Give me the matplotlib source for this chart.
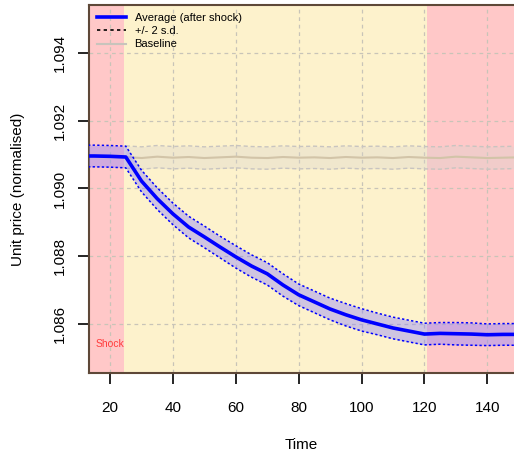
import matplotlib
matplotlib.use("Agg")
from matplotlib import pyplot as plt
from matplotlib.lines import Line2D
import numpy as np

"""
Unit price response to a supply shock, with the baseline run for comparison.
"""

# Average unit price after the shock
time = [13, 15, 20, 25, 30, 35, 40, 45, 50, 55, 60, 65, 70, 75, 80, 85, 90,
        95, 100, 105, 110, 115, 120, 125, 130, 135, 140, 145, 150]
avg_price = [1.09096, 1.09096, 1.09095, 1.09093, 1.09022, 1.08970, 1.08925,
             1.08886, 1.08857, 1.08827, 1.08798, 1.08771, 1.08748, 1.08715,
             1.08686, 1.08665, 1.08644, 1.08627, 1.08612, 1.08600, 1.08588,
             1.08579, 1.08570, 1.08572, 1.08571, 1.08570, 1.08568, 1.08569,
             1.08569]
avg_sd2 = [0.00032, 0.00032, 0.00032, 0.00032, 0.00032, 0.00032, 0.00032,
           0.00032, 0.00032, 0.00032, 0.00033, 0.00033, 0.00033, 0.00033,
           0.00032, 0.00032, 0.00032, 0.00033, 0.00033, 0.00032, 0.00032,
           0.00032, 0.00032, 0.00032, 0.00033, 0.00033, 0.00032, 0.00032,
           0.00032]

# Baseline (no shock) run
base_time = [25, 30, 35, 40, 45, 50, 55, 60, 65, 70, 75, 80, 85, 90, 95, 100,
             105, 110, 115, 120, 125, 130, 135, 140, 145, 150]
base_price = [1.09093, 1.09090, 1.09094, 1.09091, 1.09093, 1.09090, 1.09092,
              1.09094, 1.09091, 1.09090, 1.09093, 1.09091, 1.09092, 1.09090,
              1.09093, 1.09091, 1.09092, 1.09090, 1.09093, 1.09091, 1.09090,
              1.09094, 1.09092, 1.09090, 1.09091, 1.09092]
base_sd2 = [0.00033] * len(base_time)

# Shock phases
shock_start = 24.5
shock_end = 120.7

XLIM = (13.3, 148.5)
YLIM = (1.08455, 1.09542)


def main():
    plt.rcParams['font.family'] = ['Liberation Sans', 'DejaVu Sans']

    t = np.array(time)
    y = np.array(avg_price)
    s = np.array(avg_sd2)
    bt = np.array(base_time)
    by = np.array(base_price)
    bs = np.array(base_sd2)

    fig = plt.figure(figsize=(5.14, 4.61), dpi=100)
    ax = fig.add_axes([89 / 514, 88 / 461, 1 - 89 / 514, 368 / 461])

    # Background phases
    ax.axvspan(XLIM[0], shock_start, color='#ffc8c8', zorder=0, lw=0)
    ax.axvspan(shock_start, shock_end, color='#fdf2cc', zorder=0, lw=0)
    ax.axvspan(shock_end, XLIM[1] + 5, color='#ffc8c8', zorder=0, lw=0)

    # Grid
    for xv in [20, 40, 60, 80, 100, 120, 140]:
        ax.axvline(xv, color='#c8c4b8', lw=0.9, ls=(0, (3, 3)), zorder=1)
    for yv in [1.086, 1.088, 1.090, 1.092, 1.094]:
        ax.axhline(yv, color='#c8c4b8', lw=0.9, ls=(0, (3, 3)), zorder=1)

    # Baseline
    ax.fill_between(bt, by - bs, by + bs, color='#d8d4d0', alpha=0.35,
                    lw=0, zorder=2)
    ax.plot(bt, by + bs, color='#c8c4c0', lw=1, ls=(0, (3, 2)), zorder=2)
    ax.plot(bt, by - bs, color='#c8c4c0', lw=1, ls=(0, (3, 2)), zorder=2)
    ax.plot(bt, by, color='#d2c4a8', lw=1.5, zorder=2)

    # Average after shock
    ax.fill_between(t, y - s, y + s, color='#8a7fff', alpha=0.4, lw=0,
                    zorder=3)
    ax.plot(t, y + s, color='#0000ff', lw=1.1, ls=(0, (1.5, 1.5)), zorder=4)
    ax.plot(t, y - s, color='#0000ff', lw=1.1, ls=(0, (1.5, 1.5)), zorder=4)
    ax.plot(t, y, color='#0000ff', lw=2.6, zorder=5)

    ax.text(15.5, 1.08541, "Shock", color='#ff3c3c', fontsize=7.5,
            va='center', ha='left', zorder=6)

    ax.set_xlim(*XLIM)
    ax.set_ylim(*YLIM)
    ax.set_xticks([20, 40, 60, 80, 100, 120, 140])
    ax.set_yticks([1.086, 1.088, 1.090, 1.092, 1.094])
    ax.set_yticklabels(["1.086", "1.088", "1.090", "1.092", "1.094"],
                       rotation=90, va='center')
    ax.tick_params(axis='both', length=8, width=1.2, labelsize=11,
                   direction='out')
    ax.tick_params(axis='x', pad=12)
    ax.tick_params(axis='y', pad=8)

    for side in ['left', 'top', 'bottom']:
        ax.spines[side].set_color('#5e4838')
        ax.spines[side].set_linewidth(1.5)
    ax.spines['right'].set_visible(False)

    ax.set_xlabel("Time", fontsize=11, labelpad=17)
    ax.set_ylabel("Unit price (normalised)", fontsize=11, labelpad=20)

    handles = [
        Line2D([], [], color='#0000ff', lw=2.6),
        Line2D([], [], color='black', lw=1.2, ls=(0, (2, 2))),
        Line2D([], [], color='#c8c4bc', lw=1.5),
    ]
    labels = ["Average (after shock)", "+/- 2 s.d.", "Baseline"]
    ax.legend(handles, labels, loc='upper left', frameon=False, fontsize=8,
              handlelength=2.6, labelspacing=0.3, borderaxespad=0.3,
              bbox_to_anchor=(0.0, 1.0))

    fig.savefig("out.png", dpi=100)


if __name__ == '__main__':
    main()
